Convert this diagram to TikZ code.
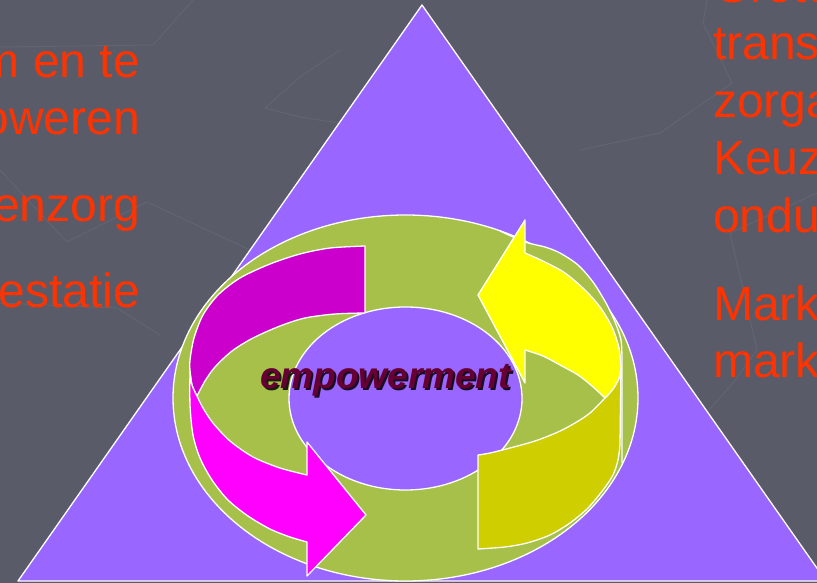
\documentclass[tikz,border=0pt]{standalone}
\usepackage{fontspec}
\setmainfont{Liberation Sans}
\definecolor{bg}{RGB}{89,91,105}
\definecolor{tri}{RGB}{153,102,255}
\definecolor{ring}{RGB}{166,192,74}
\definecolor{magd}{RGB}{204,0,204}
\definecolor{magb}{RGB}{255,0,255}
\definecolor{yelb}{RGB}{255,255,0}
\definecolor{yeld}{RGB}{206,206,0}
\definecolor{txt}{RGB}{255,51,0}
\definecolor{emp}{RGB}{102,0,51}
\definecolor{bgline}{RGB}{98,100,114}
\begin{document}
\begin{tikzpicture}[x=1pt,y=-1pt,line join=round,
  edge/.style={draw=white,line width=1.3pt},
  deco/.style={draw=bgline,line width=1pt},
  sidetext/.style={text=txt,inner sep=0pt,font=\fontsize{48}{57}\selectfont},
  emptext/.style={inner sep=0pt,anchor=base,font=\fontsize{37}{40}\selectfont\bfseries\itshape}]
\useasboundingbox (0,0) rectangle (817,583);
\clip (0,0) rectangle (817,583);
\fill[bg] (0,0) rectangle (817,583);
% faint background lines
\draw[deco] (0,47) -- (153,45) -- (193,0);
\draw[deco] (340,50) -- (300,77) -- (265,108) -- (300,117) -- (345,124);
\draw[deco] (0,170) -- (67,242) -- (147,202) -- (250,250);
\draw[deco] (0,303) -- (117,308) -- (160,335);
\draw[deco] (707,0) -- (703,23) -- (732,83) -- (660,133) -- (580,150);
\draw[deco] (817,193) -- (730,233) -- (757,350) -- (733,383) -- (700,420);
% triangle
\coordinate (apex) at (422,5);
\coordinate (bl) at (18,581);
\coordinate (br) at (826,581);
\filldraw[fill=tri,edge] (apex) -- (bl) -- (br) -- cycle;
% ring
\filldraw[fill=ring,edge] (405.5,398) ellipse [x radius=232.5pt,y radius=183pt];
\fill[ring] (500,231) -- plot[smooth] coordinates {(500,231) (525,242) (545,247) (560,253) (578,265) (593,282) (606,303) (615,322) (621,340) (622,360)} -- (622,463) -- (600,400) -- (540,300) -- cycle;
\draw[edge] plot[smooth] coordinates {(500,231) (525,242) (545,247) (560,253) (578,265) (593,282) (606,303) (615,322) (621,340) (622,360)} -- (622,463);
\filldraw[fill=tri,edge] (405.5,398.5) ellipse [x radius=116.5pt,y radius=91.5pt];
% magenta arrow, top face
\filldraw[fill=magd,edge] (365,313) -- (365,246)
  -- plot[smooth] coordinates {(365,246) (330,248) (300,254) (270,264) (240,278) (218,295) (203,315) (194,338) (190,360) (190,371)}
  -- plot[smooth] coordinates {(190,371) (192,385) (197,396)}
  -- plot[smooth] coordinates {(197,396) (205,381) (215,367) (232,351) (253,338) (280,326) (305,318) (335,314) (365,313)} -- cycle;
% magenta arrow, side face
\filldraw[fill=magb,edge] (190,371)
  -- plot[smooth] coordinates {(190,371) (190,405) (193,435) (200,458) (212,480) (228,500) (248,516) (270,529) (290,537) (307,542)}
  -- (307,576) -- (366,515) -- (307,442) -- (307,475)
  -- plot[smooth] coordinates {(307,475) (280,468) (253,457) (230,441) (213,423) (203,408) (197,396)}
  -- plot[smooth] coordinates {(197,396) (192,385) (190,371)} -- cycle;
% yellow arrow, side face
\filldraw[fill=yeld,edge] (621,367)
  -- plot[smooth] coordinates {(621,367) (619,378) (613,389) (605,398)}
  -- plot[smooth] coordinates {(605,398) (590,413) (575,423) (558,432) (535,441) (510,448) (490,453) (478,455)}
  -- (478,549)
  -- plot[smooth] coordinates {(478,549) (505,547) (527,543) (550,535) (570,523) (588,508) (603,490) (613,475) (618,460) (620,445)} -- cycle;
% yellow arrow, top face
\filldraw[fill=yelb,edge] (525,220) -- (525,253)
  -- plot[smooth] coordinates {(525,253) (545,262) (565,273) (585,290) (600,307) (612,327) (619,348) (621,367)}
  -- plot[smooth] coordinates {(621,367) (619,378) (613,389) (605,398)}
  -- plot[smooth] coordinates {(605,398) (592,386) (578,375) (560,365) (543,356) (525,350)}
  -- (525,383) -- (478,295) -- cycle;
% centre text
\node[emptext,text=black,opacity=0.85] (empshadow) at (387.5,390.5) {empowerment};
\node[emptext,text=emp] (emp) at (385.5,388.5) {empowerment};
% side texts
\node[sidetext,anchor=base east] (l1) at (140,78) {m en te};
\node[sidetext,anchor=base east] (l2) at (140,135) {oweren};
\node[sidetext,anchor=base east] (l3) at (140,222) {enzorg};
\node[sidetext,anchor=base east] (l4) at (140,307) {estatie};
\node[sidetext,anchor=base west] (r0) at (713,3) {Grote};
\node[sidetext,anchor=base west] (r1) at (713,60) {trans};
\node[sidetext,anchor=base west] (r2) at (713,118) {zorga};
\node[sidetext,anchor=base west] (r3) at (713,175) {Keuz};
\node[sidetext,anchor=base west] (r4) at (713,232) {ondu};
\node[sidetext,anchor=base west] (r5) at (713,320) {Mark};
\node[sidetext,anchor=base west] (r6) at (713,377) {mark};
\end{tikzpicture}
\end{document}
